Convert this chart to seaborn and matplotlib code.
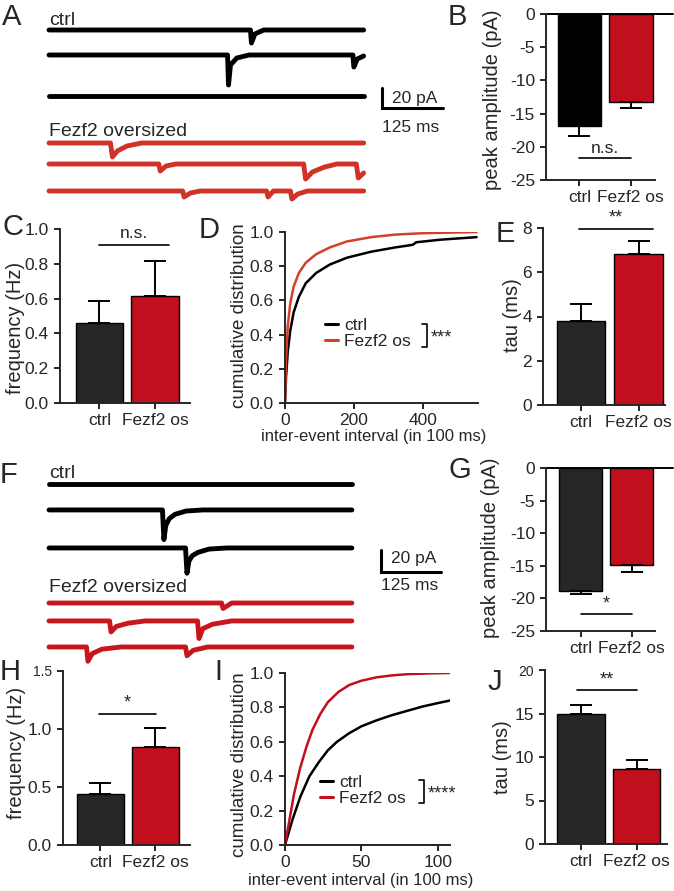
import numpy as np
import pandas as pd
import matplotlib
matplotlib.use('Agg')
import matplotlib.pyplot as plt
import seaborn as sns

sns.set_style('ticks')
plt.rcParams['font.family'] = ['Liberation Sans', 'DejaVu Sans']
plt.rcParams['axes.unicode_minus'] = False

W, H = 674, 891

groups = ['ctrl', 'Fezf2 os']

# bar panels: mean and sem per group
amp_a_mean = [-16.8, -13.2]
amp_a_sem = [1.6, 1.0]
freq_a_mean = [0.46, 0.615]
freq_a_sem = [0.125, 0.2]
tau_a_mean = [3.8, 6.82]
tau_a_sem = [0.75, 0.6]
amp_f_mean = [-18.8, -14.9]
amp_f_sem = [0.6, 1.1]
freq_f_mean = [0.437, 0.847]
freq_f_sem = [0.1, 0.16]
tau_f_mean = [14.9, 8.6]
tau_f_sem = [1.1, 1.0]

# cumulative distributions (inter-event interval in 100 ms)
cdf_d_ctrl_x = [0, 3, 8, 15, 25, 40, 60, 90, 130, 180, 250, 320, 370, 380, 450, 555]
cdf_d_ctrl_y = [0, 0.15, 0.30, 0.42, 0.53, 0.62, 0.70, 0.76, 0.81, 0.85, 0.885, 0.91, 0.925, 0.94, 0.955, 0.97]
cdf_d_os_x = [0, 3, 8, 15, 25, 40, 60, 90, 130, 180, 250, 320, 400, 555]
cdf_d_os_y = [0, 0.25, 0.45, 0.58, 0.68, 0.76, 0.82, 0.87, 0.91, 0.945, 0.97, 0.985, 0.993, 1.0]
cdf_i_ctrl_x = [0, 2, 5, 10, 16, 22, 28, 34, 42, 50, 60, 70, 80, 90, 100, 108]
cdf_i_ctrl_y = [0, 0.06, 0.15, 0.28, 0.40, 0.48, 0.55, 0.60, 0.65, 0.69, 0.725, 0.755, 0.78, 0.805, 0.825, 0.84]
cdf_i_os_x = [0, 3, 6, 10, 14, 18, 23, 28, 35, 42, 50, 60, 70, 80, 95, 108]
cdf_i_os_y = [0, 0.15, 0.30, 0.45, 0.57, 0.67, 0.76, 0.83, 0.89, 0.93, 0.955, 0.975, 0.986, 0.993, 0.998, 1.0]

# example traces (ms, pA relative to baseline)
a_ctrl_t = [[0, 413, 415, 422, 440, 645],
            [0, 366, 368, 372, 385, 410, 623, 625, 632, 645],
            [0, 645]]
a_ctrl_i = [[0, 0, -13, -4, 0, 0],
            [0, 0, -30, -10, -3, 0, 0, -12, -4, -1],
            [0, 0]]
a_os_t = [[0, 126, 130, 140, 160, 190, 645],
          [0, 225, 228, 240, 260, 522, 526, 540, 565, 590, 630, 634, 645],
          [0, 274, 277, 290, 310, 446, 449, 460, 495, 498, 510, 530, 645]]
a_os_i = [[0, 0, -14, -8, -3, 0, 0],
          [0, 0, -7, -2, 0, 0, -15, -8, -3, 0, 0, -14, -9],
          [0, 0, -6, -2, 0, 0, -6, 0, 0, -8, -3, 0, 0]]
f_ctrl_t = [[0, 630],
            [0, 236, 239, 243, 250, 262, 285, 320, 630],
            [0, 284, 287, 291, 298, 310, 333, 370, 630]]
f_ctrl_i = [[0, 0],
            [0, 0, -27, -14, -8, -4, -1, 0, 0],
            [0, 0, -23, -12, -7, -4, -1, 0, 0]]
f_os_t = [[0, 359, 362, 380, 630],
          [0, 126, 129, 140, 165, 200, 309, 312, 320, 340, 380, 630],
          [0, 78, 81, 90, 110, 150, 284, 287, 300, 330, 630]]
f_os_i = [[0, 0, -5, 0, 0],
          [0, 0, -10, -5, -2, 0, 0, -16, -7, -3, 0, 0],
          [0, 0, -13, -6, -2, 0, 0, -8, -3, 0, 0]]

black = '#000000'
dark = '#262626'
red = '#c20f1e'
red_d = '#d2402b'
red_trace_a = '#d03228'
red_trace_f = '#c8161e'

FS = 12.5
LW = 1.4

fig = plt.figure(figsize=(W / 100, H / 100), dpi=100)
over = fig.add_axes([0, 0, 1, 1], zorder=10)
over.set_xlim(0, W)
over.set_ylim(H, 0)
over.axis('off')
over.patch.set_alpha(0)


def px_ax(l, t, r, b):
    return fig.add_axes([l / W, 1 - b / H, (r - l) / W, (b - t) / H])


def style(ax):
    sns.despine(ax=ax)
    for s in ['left', 'bottom']:
        ax.spines[s].set_linewidth(LW)
    ax.tick_params(axis='both', direction='out', length=4, width=1.2,
                   labelsize=FS, color='black')
    ax.tick_params(axis='y', pad=4)
    ax.tick_params(axis='x', pad=3)


def ylabel_at(ax, text, x, y, size=14.5):
    ax.set_ylabel(text, fontsize=size, va='center', ha='center')
    ax.yaxis.set_label_coords(x, y, transform=over.transData)


def bar_panel(ax, means, sems, colors, xlim, ylim, yticks, ylabels):
    df = pd.DataFrame({'group': groups, 'value': means})
    sns.barplot(data=df, x='group', y='value', hue='group',
                palette=dict(zip(groups, colors)), width=0.85, saturation=1,
                edgecolor='black', linewidth=1.0, errorbar=None,
                legend=False, ax=ax)
    lower = [s if m < 0 else 0 for m, s in zip(means, sems)]
    upper = [0 if m < 0 else s for m, s in zip(means, sems)]
    ax.errorbar(range(len(groups)), means, yerr=[lower, upper], fmt='none',
                ecolor='black', elinewidth=1.4, capsize=8, capthick=1.4)
    style(ax)
    ax.set_xlim(*xlim)
    ax.set_ylim(*ylim)
    ax.set_yticks(yticks, labels=ylabels)
    ax.set_xlabel('')


def sig(ax, x0, x1, y, text, ty, size=FS):
    ax.plot([x0, x1], [y, y], color='black', lw=1.2, clip_on=False)
    ax.text((x0 + x1) / 2, ty, text, ha='center', va='bottom',
            fontsize=size, clip_on=False)


def trace_panel(ax, ctrl_t, ctrl_i, os_t, os_i, offsets, red_c, ms_px, pa_px, x0, l, t, r, b):
    ax.set_xlim((l - x0) * ms_px, (r - x0) * ms_px)
    ax.set_ylim(-(b - t) * pa_px, 0)
    ax.axis('off')
    rows = list(zip(ctrl_t, ctrl_i)) + list(zip(os_t, os_i))
    for k, (tt, ii) in enumerate(rows):
        c = black if k < 3 else red_c
        sns.lineplot(x=tt, y=np.array(ii) + offsets[k], ax=ax, color=c,
                     lw=3.5, estimator=None, sort=False)


# ---- A traces
ax = px_ax(40, 5, 470, 205)
trace_panel(ax, a_ctrl_t, a_ctrl_i, a_os_t, a_os_i,
            [-25, -50, -91, -138, -159, -186], red_trace_a, 2.05, 1.0, 49, 40, 5, 470, 205)
ax.text(0, -20, 'ctrl', fontsize=14, va='baseline')
ax.text(0, -131, 'Fezf2 oversized', fontsize=14, va='baseline')
sx = (382 - 49) * 2.05
ax.plot([sx, sx, sx + 125], [-83, -103, -103], color='black', lw=2.2, clip_on=False,
        solid_joinstyle='miter')
ax.text(sx + 20, -93, '20 pA', fontsize=FS, va='center')
ax.text(sx, -122, '125 ms', fontsize=FS, va='center')

# ---- F traces
ax = px_ax(40, 455, 470, 670)
trace_panel(ax, f_ctrl_t, f_ctrl_i, f_os_t, f_os_i,
            [-26.4, -50, -84.6, -134.7, -151, -174.7], red_trace_f, 2.08, 0.91, 49, 40, 455, 470, 670)
ax.text(0, -21, 'ctrl', fontsize=14, va='baseline')
ax.text(0, -124.7, 'Fezf2 oversized', fontsize=14, va='baseline')
sx = (381 - 49) * 2.08
ax.plot([sx, sx, sx + 125], [-86.5, -106.5, -106.5], color='black', lw=2.2, clip_on=False,
        solid_joinstyle='miter')
ax.text(sx + 20, -94, '20 pA', fontsize=FS, va='center')
ax.text(sx, -118.5, '125 ms', fontsize=FS, va='center')

# ---- B
ax = px_ax(546, 14, 655, 180)
bar_panel(ax, amp_a_mean, amp_a_sem, [black, red], (-0.65, 1.47), (-25, 0),
          [0, -5, -10, -15, -20, -25], ['0', '-5', '-10', '-15', '-20', '-25'])
ax.axhline(0, xmin=0, xmax=(673 - 546) / (655 - 546), color='black', lw=LW, clip_on=False)
sig(ax, 0, 1, -21.7, 'n.s.', -21.4)
ylabel_at(ax, 'peak amplitude (pA)', 493, 100)

# ---- C
ax = px_ax(60, 229, 190, 403)
bar_panel(ax, freq_a_mean, freq_a_sem, [dark, red], (-0.71, 1.63), (0, 1.0),
          [0, 0.2, 0.4, 0.6, 0.8, 1.0], ['0.0', '0.2', '0.4', '0.6', '0.8', '1.0'])
sig(ax, 0, 1.25, 0.908, 'n.s.', 0.93)
ylabel_at(ax, 'frequency (Hz)', 16, 328)

# ---- D
ax = px_ax(285, 232, 478, 403)
cdf_d = pd.DataFrame({'x': cdf_d_ctrl_x + cdf_d_os_x,
                      'y': cdf_d_ctrl_y + cdf_d_os_y,
                      'group': ['ctrl'] * len(cdf_d_ctrl_x) + ['Fezf2 os'] * len(cdf_d_os_x)})
sns.lineplot(data=cdf_d, x='x', y='y', hue='group', palette={'ctrl': black, 'Fezf2 os': red_d},
             lw=1.8, estimator=None, ax=ax)
style(ax)
ax.set_xlim(0, 559)
ax.set_ylim(0, 1.0)
ax.set_xticks([0, 200, 400])
ax.set_yticks([0, 0.2, 0.4, 0.6, 0.8, 1.0], labels=['0.0', '0.2', '0.4', '0.6', '0.8', '1.0'])
ax.set_xlabel('inter-event interval (in 100 ms)', fontsize=12)
ax.xaxis.set_label_coords(374, 437, transform=over.transData)
ax.xaxis.label.set_va('center')
ylabel_at(ax, 'cumulative distribution', 240, 316, size=13.5)
h, lab = ax.get_legend_handles_labels()
for hh in h:
    hh.set_linewidth(2.2)
ax.legend(h, lab, loc='upper left', bbox_to_anchor=(325 / W, 1 - 318 / H),
          bbox_transform=fig.transFigure, frameon=False, handlelength=0.75,
          handletextpad=0.35, labelspacing=0.05, borderpad=0, borderaxespad=0, fontsize=FS)

# ---- E
ax = px_ax(543, 228, 665, 405)
bar_panel(ax, tau_a_mean, tau_a_sem, [dark, red], (-0.66, 1.46), (0, 8),
          [0, 2, 4, 6, 8], ['0', '2', '4', '6', '8'])
sig(ax, -0.03, 1.25, 7.95, '**', 8.05, size=13)
ylabel_at(ax, 'tau (ms)', 513, 315)

# ---- G
ax = px_ax(546, 468, 655, 631)
bar_panel(ax, amp_f_mean, amp_f_sem, [dark, red], (-0.68, 1.46), (-25, 0),
          [0, -5, -10, -15, -20, -25], ['0', '-5', '-10', '-15', '-20', '-25'])
ax.axhline(0, xmin=0, xmax=(673 - 546) / (655 - 546), color='black', lw=LW, clip_on=False)
sig(ax, 0, 1, -22.4, '*', -22.2, size=13)
ylabel_at(ax, 'peak amplitude (pA)', 491, 548)

# ---- H
ax = px_ax(63, 671, 190, 845)
bar_panel(ax, freq_f_mean, freq_f_sem, [dark, red], (-0.68, 1.63), (0, 1.5),
          [0, 0.5, 1.0, 1.5], ['0.0', '0.5', '1.0', '1.5'])
ax.get_yticklabels()[-1].set_fontsize(10)
sig(ax, -0.03, 1.01, 1.13, '*', 1.15, size=13)
ylabel_at(ax, 'frequency (Hz)', 17, 753)

# ---- I
ax = px_ax(285, 673, 450, 845)
cdf_i = pd.DataFrame({'x': cdf_i_ctrl_x + cdf_i_os_x,
                      'y': cdf_i_ctrl_y + cdf_i_os_y,
                      'group': ['ctrl'] * len(cdf_i_ctrl_x) + ['Fezf2 os'] * len(cdf_i_os_x)})
sns.lineplot(data=cdf_i, x='x', y='y', hue='group', palette={'ctrl': black, 'Fezf2 os': red},
             lw=1.8, estimator=None, ax=ax)
style(ax)
ax.set_xlim(0, 108)
ax.set_ylim(0, 1.0)
ax.set_xticks([0, 50, 100])
ax.set_yticks([0, 0.2, 0.4, 0.6, 0.8, 1.0], labels=['0.0', '0.2', '0.4', '0.6', '0.8', '1.0'])
ax.set_xlabel('inter-event interval (in 100 ms)', fontsize=12)
ax.xaxis.set_label_coords(361, 880, transform=over.transData)
ax.xaxis.label.set_va('center')
ylabel_at(ax, 'cumulative distribution', 240, 765, size=13.5)
h, lab = ax.get_legend_handles_labels()
for hh in h:
    hh.set_linewidth(2.2)
ax.legend(h, lab, loc='upper left', bbox_to_anchor=(320 / W, 1 - 775 / H),
          bbox_transform=fig.transFigure, frameon=False, handlelength=0.75,
          handletextpad=0.35, labelspacing=0.05, borderpad=0, borderaxespad=0, fontsize=FS)

# ---- J
ax = px_ax(545, 670, 667, 844)
bar_panel(ax, tau_f_mean, tau_f_sem, [dark, red], (-0.65, 1.55), (0, 20),
          [0, 5, 10, 15, 20], ['0', '5', '10', '15', '20'])
ax.get_yticklabels()[-1].set_fontsize(10)
sig(ax, -0.07, 1.01, 17.66, '**', 17.9, size=13)
ylabel_at(ax, 'tau (ms)', 503, 757)

# ---- brackets for KS tests
for bx, by0, by1, stars in [(427, 324, 347, '***'), (424, 780, 803, '****')]:
    over.plot([bx - 5, bx, bx, bx - 5], [by0, by0, by1, by1], color='black', lw=1.2)
    over.text(bx + 4, (by0 + by1) / 2 + 2, stars, fontsize=13, va='center', ha='left')

# ---- panel letters
for letter, x, y in [('A', 2, 25), ('B', 448, 25), ('C', 2, 235), ('D', 199, 238),
                     ('E', 496, 242), ('F', 0, 483), ('G', 449, 478), ('H', 0, 680),
                     ('I', 214, 680), ('J', 488, 690)]:
    over.text(x, y, letter, fontsize=21, va='baseline', ha='left')

fig.savefig('out.png', dpi=100)
